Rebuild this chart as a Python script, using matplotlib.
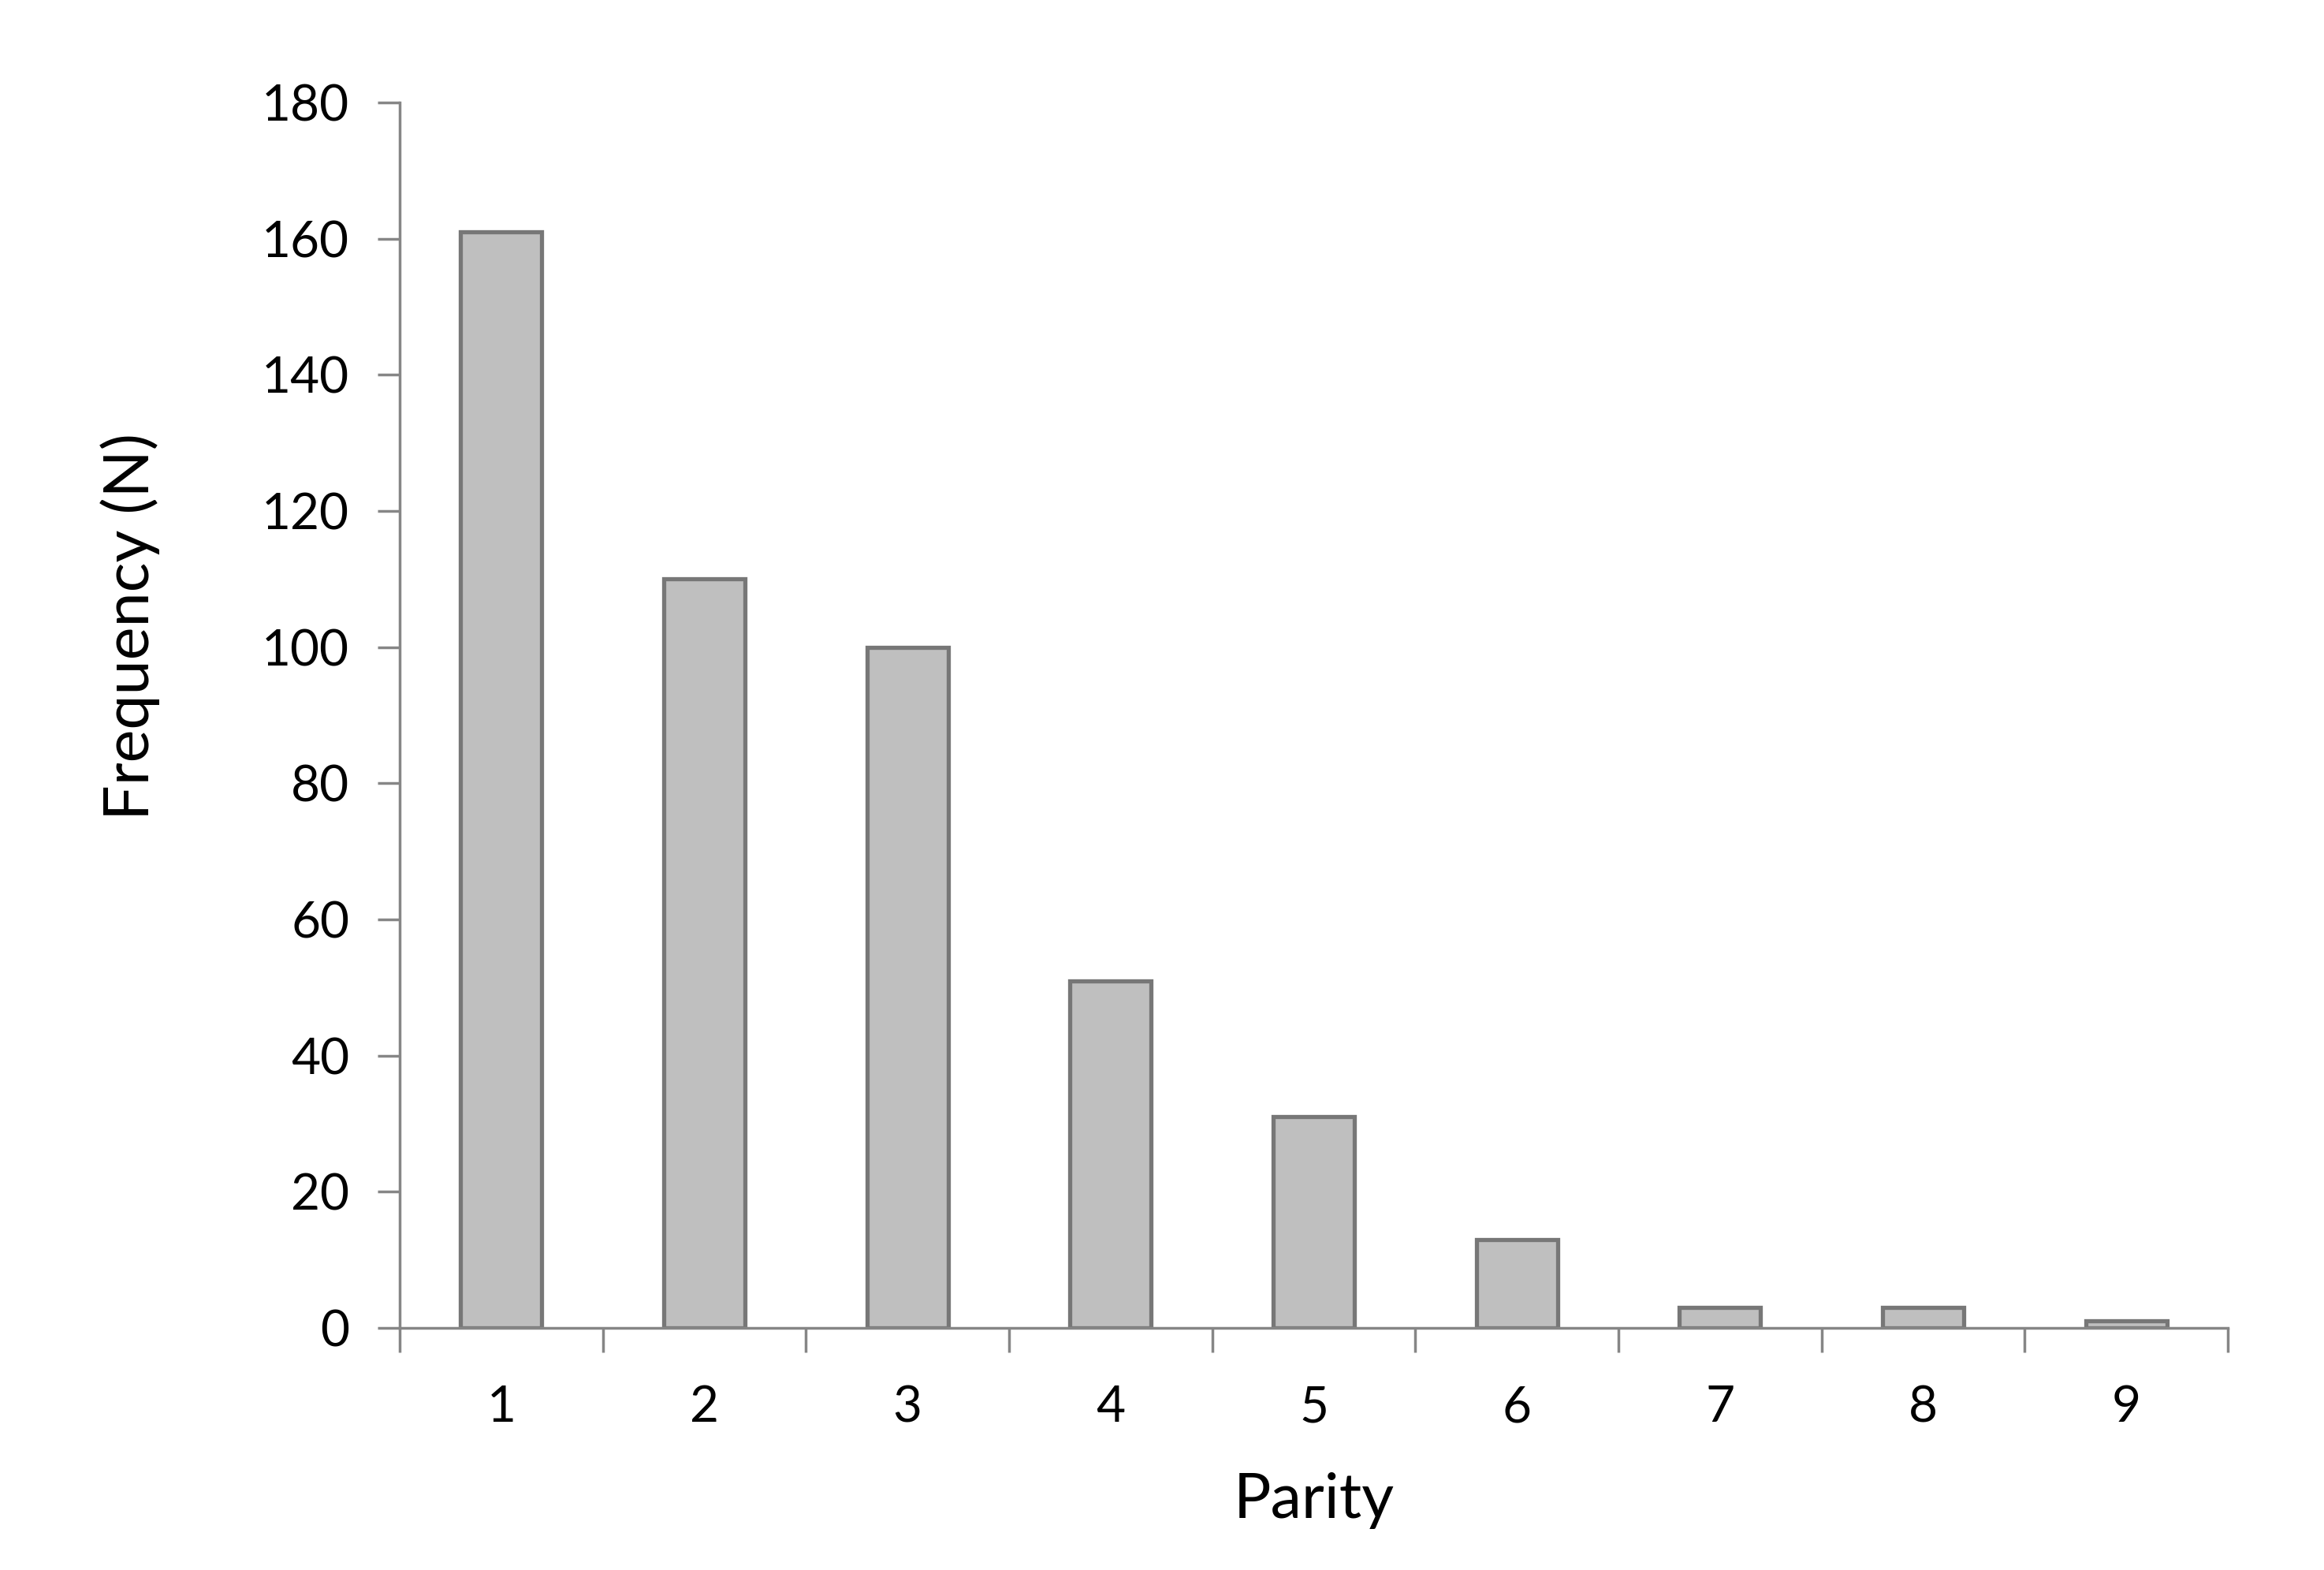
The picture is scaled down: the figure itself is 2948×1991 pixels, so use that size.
import matplotlib.pyplot as plt
import numpy as np

parity = [1, 2, 3, 4, 5, 6, 7, 8, 9]
frequency = [161, 110, 100, 51, 31, 13, 3, 3, 1]
y_ticks = [0, 20, 40, 60, 80, 100, 120, 140, 160, 180]

plt.rcParams['font.family'] = ['Lato', 'DejaVu Sans']
axis_col = '#868686'

fig = plt.figure(figsize=(29.48, 19.91), dpi=100)
ax = fig.add_axes([0.172, 0.1542, 0.7866, 0.7805])

ax.bar(parity, frequency, width=0.4, color='#bfbfbf', edgecolor='#777777', linewidth=3.8)

ax.set_xlim(0.5, 9.5)
ax.set_ylim(0, 180)

# boundary ticks between categories, labels at the centres
ax.set_xticks(np.arange(0.5, 10.0, 1.0))
ax.set_xticklabels([])
ax.set_xticks(parity, minor=True)
ax.set_xticklabels([str(p) for p in parity], minor=True)
ax.tick_params(axis='x', which='major', length=22, width=2.5, color=axis_col)
ax.tick_params(axis='x', which='minor', length=0, pad=52, labelsize=46)

ax.set_yticks(y_ticks)
ax.tick_params(axis='y', length=20, width=2.5, color=axis_col, pad=26, labelsize=46)

for s in ['top', 'right']:
    ax.spines[s].set_visible(False)
for s in ['left', 'bottom']:
    ax.spines[s].set_color(axis_col)
    ax.spines[s].set_linewidth(2.5)

ax.set_xlabel('Parity', fontsize=57, labelpad=38)
ax.set_ylabel('Frequency (N)', fontsize=57)
ax.yaxis.set_label_coords(-0.131, 0.5725)

fig.savefig('out.png', dpi=100, facecolor='white')
